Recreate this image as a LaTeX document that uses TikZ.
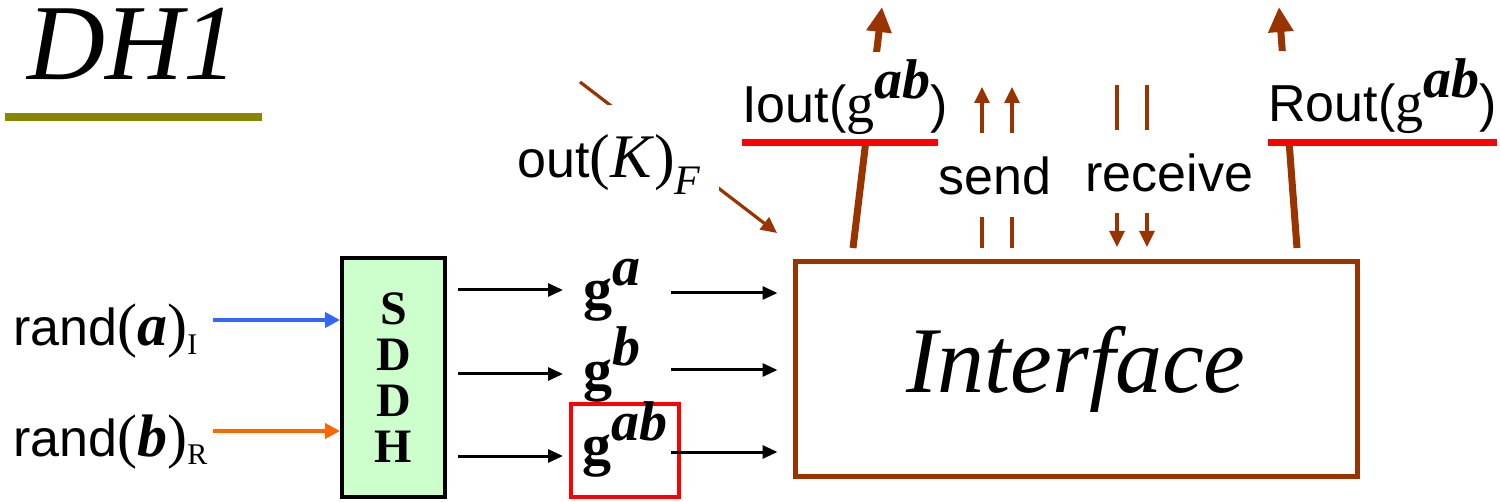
\documentclass[tikz,border=0pt]{standalone}
\usepackage{fontspec}
\setmainfont{Liberation Serif}
\newfontfamily\arial{Liberation Sans}
\usetikzlibrary{arrows.meta,calc}

\definecolor{ifbrown}{RGB}{153,51,0}
\definecolor{sddhgreen}{RGB}{204,255,204}
\definecolor{randblue}{RGB}{51,102,255}
\definecolor{randorange}{RGB}{255,102,0}
\definecolor{titleolive}{RGB}{134,134,0}

\newcommand{\sanslbl}{\arial\fontsize{26}{30}\selectfont}
\newcommand{\serlbl}[1]{\rmfamily\fontsize{#1}{#1}\selectfont}
\newcommand{\gexp}[1]{\raisebox{12pt}{\serlbl{28}\bfseries\itshape #1}}

\begin{document}
\begin{tikzpicture}
	[x=0.5pt,y=-0.5pt,
	 outarrow/.style={-{Triangle[length=12.5pt,width=12pt]},line width=3.5pt,ifbrown},
	 msgarrow/.style={-{Triangle[length=8pt,width=7.5pt]},line width=1.6pt,ifbrown},
	 randarrow/.style={-{Triangle[length=7.5pt,width=7.5pt]},line width=2pt},
	 feed/.style={-{Triangle[length=7.5pt,width=6.5pt]},line width=1.5pt},
	 cover/.style={fill=white,inner sep=0pt},
	 underline/.style={red,line width=3.5pt}]
	\useasboundingbox (0,0) rectangle (1500,502);

	% title
	\node[anchor=base west,inner sep=0pt,text height=37pt,text depth=0pt,font=\serlbl{54}\itshape] (title) at (27,80) {DH1};
	\draw[titleolive,line width=4pt] (5,117) -- (262,117);

	% boxes
	\node[draw,line width=2pt,fill=sddhgreen,minimum width=51.5pt,minimum height=119.5pt,
		align=center,font=\fontsize{24}{23}\selectfont\bfseries] (sddh) at (393.5,377.5) {S\\D\\D\\H};
	\node[draw=ifbrown,line width=2.5pt,minimum width=281pt,minimum height=107pt,
		font=\serlbl{47}\itshape] (iface) at (1076,369) {Interface};

	% inputs
	\node[anchor=base west,inner sep=0pt] (randA) at (13,346)
		{{\sanslbl rand}{\serlbl{30}(\textbf{\textit{a}})}\raisebox{-4.5pt}{\serlbl{15}I}};
	\node[anchor=base west,inner sep=0pt] (randB) at (13,456)
		{{\sanslbl rand}{\serlbl{30}(\textbf{\textit{b}})}\raisebox{-4.5pt}{\serlbl{15}R}};
	\coordinate (randAin) at (213,320);
	\coordinate (randBin) at (213,431);
	\draw[randarrow,randblue] (randAin) -- (randAin -| sddh.west);
	\draw[randarrow,randorange] (randBin) -- (randBin -| sddh.west);

	% exponentials
	\node[anchor=base west,inner sep=0pt,font=\serlbl{29}\bfseries] (ga) at (583,309) {g\gexp{a}};
	\node[anchor=base west,inner sep=0pt,font=\serlbl{29}\bfseries] (gb) at (583,389) {g\gexp{b}};
	\node[draw=red,line width=2pt,anchor=base,inner sep=0pt,minimum width=54pt,text height=30pt,text depth=16.5pt,
		font=\serlbl{29}\bfseries] (gab) at (625,464) {g\gexp{ab}};

	% sddh to exponentials
	\coordinate (fa) at (458,290);
	\coordinate (fb) at (458,374);
	\coordinate (fab) at (458,456);
	\draw[feed] (fa) -- ($(fa)+(105,0)$);
	\draw[feed] (fb) -- ($(fb)+(105,0)$);
	\draw[feed] (fab) -- ($(fab)+(105,0)$);

	% exponentials to interface
	\coordinate (ia) at (671,293);
	\coordinate (ib) at (671,370);
	\coordinate (iab) at (671,452);
	\draw[feed] (ia) -- ($(ia -| iface.west)+(-15,0)$);
	\draw[feed] (ib) -- ($(ib -| iface.west)+(-15,0)$);
	\draw[feed] (iab) -- ($(iab -| iface.west)+(-15,0)$);

	% outputs of the interface
	\coordinate (ioutFoot) at (853,248);
	\coordinate (ioutTip) at (882,7);
	\coordinate (routFoot) at (1297,248);
	\coordinate (routTip) at (1279,7);
	\draw[outarrow] (ioutFoot) -- (ioutTip);
	\draw[outarrow] (routFoot) -- (routTip);

	% send and receive
	\coordinate (sendA) at (982,248);
	\coordinate (sendB) at (1012,248);
	\coordinate (recvA) at (1117,85);
	\coordinate (recvB) at (1147,85);
	\draw[msgarrow] (sendA) -- ($(sendA)+(0,-161)$);
	\draw[msgarrow] (sendB) -- ($(sendB)+(0,-161)$);
	\draw[msgarrow] (recvA) -- ($(recvA)+(0,162)$);
	\draw[msgarrow] (recvB) -- ($(recvB)+(0,162)$);

	% adversary output
	\coordinate (kstart) at (580,82);
	\coordinate (ktip) at (777,233);
	\draw[msgarrow] (kstart) -- (ktip);

	% labels
	\node[cover,anchor=base,inner xsep=9pt,text height=36.5pt,text depth=9pt] (outK) at (609,178)
		{{\sanslbl out}{\serlbl{31}(\textit{K})}\raisebox{-8.5pt}{\serlbl{21}\textit{F}}};
	\node[cover,anchor=base west,text height=35.5pt,text depth=9.5pt] (iout) at (742,123)
		{{\sanslbl Iout(}{\serlbl{28}g}\gexp{ab}{\sanslbl )}};
	\node[cover,anchor=base west,text height=35.5pt,text depth=10pt] (rout) at (1268,122)
		{{\sanslbl Rout(}{\serlbl{28}g}\gexp{ab}{\sanslbl )}};
	\draw[underline] (iout.south west) -- (iout.south east);
	\draw[underline] (rout.south west) -- (rout.south east);
	\node[cover,anchor=base west,text height=31pt,text depth=11pt,font=\sanslbl] (send) at (938,195) {send};
	\node[cover,anchor=base west,text height=31pt,text depth=10.5pt,font=\sanslbl] (recv) at (1085,192) {receive};
\end{tikzpicture}
\end{document}
